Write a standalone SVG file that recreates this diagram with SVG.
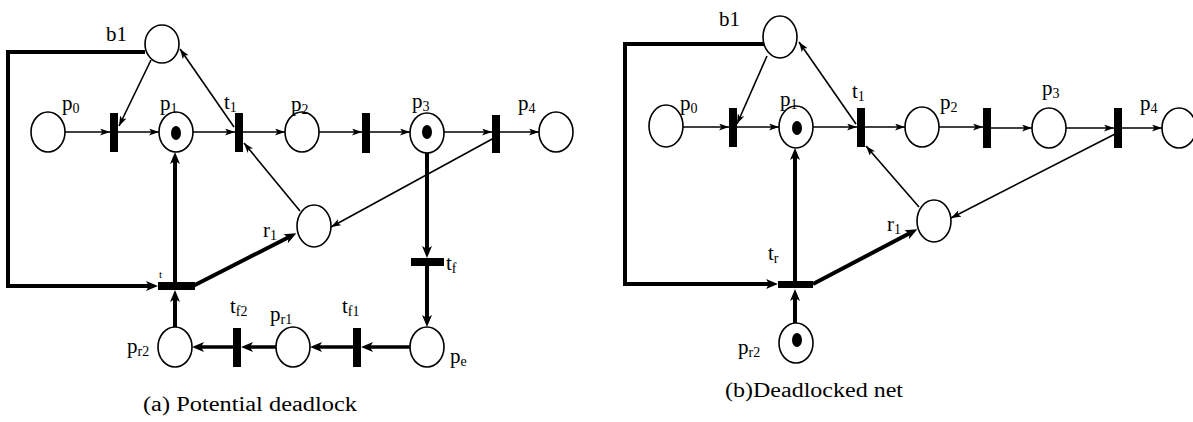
<svg xmlns="http://www.w3.org/2000/svg" width="1193" height="422" viewBox="0 0 1193 422">
<style>
.pl{fill:#fff;stroke:#000;stroke-width:1.6}
.tk{fill:#000}
.tb{fill:#000}
.a{fill:none;stroke:#000;stroke-width:1.6}
.b{fill:none;stroke:#000;stroke-width:4}
.c{fill:none;stroke:#000;stroke-width:3.5}
text{font-family:"Liberation Serif","Times New Roman",serif;font-size:21px;fill:#000}
.s{font-size:14px}
.sm{font-size:11px}
.cap{font-size:20px}
</style>
<defs>
<marker id="ah" markerUnits="userSpaceOnUse" markerWidth="10" markerHeight="7" refX="10" refY="3.5" orient="auto">
<path d="M0,0 L10,3.5 L0,7 L2.5,3.5 z" fill="#000"/>
</marker>
<marker id="ahb" markerUnits="userSpaceOnUse" markerWidth="12" markerHeight="10" refX="6" refY="5" orient="auto">
<path d="M0,0 L12,5 L0,10 L3,5 z" fill="#000"/>
</marker>
</defs>
<rect width="1193" height="422" fill="#fff"/>

<g id="connectors">
<!-- left net -->
<line class="a" x1="65" y1="132" x2="110" y2="132" marker-end="url(#ah)"/>
<line class="a" x1="151" y1="60" x2="119" y2="126" marker-end="url(#ah)"/>
<line class="a" x1="118" y1="132" x2="159" y2="132" marker-end="url(#ah)"/>
<line class="a" x1="193" y1="132" x2="235" y2="132" marker-end="url(#ah)"/>
<line class="a" x1="234" y1="127" x2="180" y2="49" marker-end="url(#ah)"/>
<line class="a" x1="243" y1="132" x2="285" y2="132" marker-end="url(#ah)"/>
<line class="a" x1="319" y1="132" x2="362" y2="132" marker-end="url(#ah)"/>
<line class="a" x1="370" y1="132" x2="410" y2="132" marker-end="url(#ah)"/>
<line class="a" x1="444" y1="132" x2="492" y2="132" marker-end="url(#ah)"/>
<line class="a" x1="500" y1="132" x2="539" y2="132" marker-end="url(#ah)"/>
<line class="a" x1="300" y1="211" x2="244" y2="143" marker-end="url(#ah)"/>
<line class="a" x1="494" y1="138" x2="331" y2="227" marker-end="url(#ah)"/>
<line class="b" x1="427" y1="153" x2="427" y2="252" marker-end="url(#ahb)"/>
<line class="b" x1="427" y1="266" x2="427" y2="321" marker-end="url(#ahb)"/>
<line class="c" x1="410" y1="347" x2="367" y2="347" marker-end="url(#ahb)"/>
<line class="c" x1="353" y1="347" x2="316" y2="347" marker-end="url(#ahb)"/>
<line class="c" x1="276" y1="347" x2="247" y2="347" marker-end="url(#ahb)"/>
<line class="c" x1="233" y1="347" x2="198" y2="347" marker-end="url(#ahb)"/>
<line class="b" x1="175" y1="327" x2="175" y2="296" marker-end="url(#ahb)"/>
<line class="b" x1="175" y1="282" x2="175" y2="158" marker-end="url(#ahb)"/>
<polyline class="b" points="145,52 8,52 8,286 152,286" marker-end="url(#ahb)"/>
<line class="b" x1="193" y1="286" x2="291" y2="236" marker-end="url(#ahb)"/>
<!-- right net -->
<line class="a" x1="683" y1="127" x2="729" y2="127" marker-end="url(#ah)"/>
<line class="a" x1="767" y1="56" x2="737" y2="124" marker-end="url(#ah)"/>
<line class="a" x1="737" y1="127" x2="779" y2="127" marker-end="url(#ah)"/>
<line class="a" x1="813" y1="127" x2="857" y2="127" marker-end="url(#ah)"/>
<line class="a" x1="856" y1="124" x2="799" y2="42" marker-end="url(#ah)"/>
<line class="a" x1="865" y1="127" x2="905" y2="127" marker-end="url(#ah)"/>
<line class="a" x1="939" y1="127" x2="983" y2="127" marker-end="url(#ah)"/>
<line class="a" x1="991" y1="128" x2="1032" y2="128" marker-end="url(#ah)"/>
<line class="a" x1="1066" y1="128" x2="1114" y2="128" marker-end="url(#ah)"/>
<line class="a" x1="1122" y1="128" x2="1162" y2="128" marker-end="url(#ah)"/>
<line class="a" x1="919" y1="207" x2="866" y2="146" marker-end="url(#ah)"/>
<line class="a" x1="1117" y1="133" x2="951" y2="218" marker-end="url(#ah)"/>
<polyline class="b" points="766,44 625,44 625,284 772,284" marker-end="url(#ahb)"/>
<line class="b" x1="795" y1="323" x2="795" y2="295" marker-end="url(#ahb)"/>
<line class="b" x1="795" y1="282" x2="795" y2="154" marker-end="url(#ahb)"/>
<line class="b" x1="813" y1="284" x2="912" y2="232" marker-end="url(#ahb)"/>
</g>

<!-- left net nodes -->
<g id="a_b1"><ellipse class="pl" cx="162" cy="44" rx="17" ry="19"/><text x="106" y="41">b1</text></g>
<g id="a_p0"><ellipse class="pl" cx="48" cy="132" rx="17" ry="20"/><text x="62" y="110">p<tspan class="s" dy="3">0</tspan></text></g>
<g id="a_t0"><rect class="tb" x="110" y="113" width="8" height="39"/></g>
<g id="a_p1"><ellipse class="pl" cx="176" cy="132" rx="17" ry="20"/><ellipse class="tk" cx="176" cy="133" rx="5" ry="7"/><text x="160" y="110">p<tspan class="s" dy="3">1</tspan></text></g>
<g id="a_t1"><rect class="tb" x="235" y="113" width="8" height="39"/><text x="224" y="109">t<tspan class="s" dy="3">1</tspan></text></g>
<g id="a_p2"><ellipse class="pl" cx="302" cy="132" rx="17" ry="20"/><text x="291" y="111">p<tspan class="s" dy="3">2</tspan></text></g>
<g id="a_t2"><rect class="tb" x="362" y="113" width="8" height="40"/></g>
<g id="a_p3"><ellipse class="pl" cx="427" cy="133" rx="17" ry="20"/><ellipse class="tk" cx="427" cy="132" rx="5" ry="7"/><text x="412" y="108">p<tspan class="s" dy="3">3</tspan></text></g>
<g id="a_t3"><rect class="tb" x="492" y="115" width="8" height="38"/></g>
<g id="a_p4"><ellipse class="pl" cx="556" cy="132" rx="17" ry="20"/><text x="518" y="110">p<tspan class="s" dy="3">4</tspan></text></g>
<g id="a_r1"><ellipse class="pl" cx="314" cy="226" rx="17" ry="21"/><text x="263" y="237">r<tspan class="s" dy="3">1</tspan></text></g>
<g id="a_tr"><rect class="tb" x="158" y="282" width="37" height="8"/><text class="sm" x="159" y="278">t</text></g>
<g id="a_tf"><rect class="tb" x="411" y="258" width="33" height="8"/><text x="446" y="270">t<tspan class="s" dy="3">f</tspan></text></g>
<g id="a_pe"><ellipse class="pl" cx="427" cy="347" rx="17" ry="20"/><text x="450" y="363">p<tspan class="s" dy="3">e</tspan></text></g>
<g id="a_tf1"><rect class="tb" x="353" y="328" width="8" height="39"/><text x="342" y="313">t<tspan class="s" dy="3">f1</tspan></text></g>
<g id="a_pr1"><ellipse class="pl" cx="293" cy="347" rx="17" ry="20"/><text x="270" y="321">p<tspan class="s" dy="3">r1</tspan></text></g>
<g id="a_tf2"><rect class="tb" x="233" y="328" width="8" height="39"/><text x="230" y="313">t<tspan class="s" dy="3">f2</tspan></text></g>
<g id="a_pr2"><ellipse class="pl" cx="175" cy="347" rx="17" ry="20"/><text x="127" y="353">p<tspan class="s" dy="3">r2</tspan></text></g>
<text class="cap" x="143" y="411" textLength="214" lengthAdjust="spacingAndGlyphs">(a) Potential deadlock</text>

<!-- right net nodes -->
<g id="b_b1"><ellipse class="pl" cx="780" cy="37" rx="17" ry="21"/><text x="719" y="26">b1</text></g>
<g id="b_p0"><ellipse class="pl" cx="666" cy="126" rx="17" ry="21"/><text x="680" y="110">p<tspan class="s" dy="3">0</tspan></text></g>
<g id="b_t0"><rect class="tb" x="729" y="108" width="8" height="39"/></g>
<g id="b_p1"><ellipse class="pl" cx="796" cy="127" rx="17" ry="21"/><ellipse class="tk" cx="797" cy="128" rx="5" ry="7"/><text x="780" y="106">p<tspan class="s" dy="3">1</tspan></text></g>
<g id="b_t1"><rect class="tb" x="857" y="108" width="8" height="39"/><text x="852" y="98">t<tspan class="s" dy="3">1</tspan></text></g>
<g id="b_p2"><ellipse class="pl" cx="922" cy="127" rx="17" ry="20"/><text x="940" y="109">p<tspan class="s" dy="3">2</tspan></text></g>
<g id="b_t2"><rect class="tb" x="983" y="108" width="8" height="40"/></g>
<g id="b_p3"><ellipse class="pl" cx="1049" cy="128" rx="17" ry="20"/><text x="1042" y="95">p<tspan class="s" dy="3">3</tspan></text></g>
<g id="b_t3"><rect class="tb" x="1114" y="108" width="8" height="40"/></g>
<g id="b_p4"><ellipse class="pl" cx="1179" cy="128" rx="17" ry="20"/><text x="1140" y="110">p<tspan class="s" dy="3">4</tspan></text></g>
<g id="b_r1"><ellipse class="pl" cx="934" cy="221" rx="17" ry="21"/><text x="887" y="231">r<tspan class="s" dy="3">1</tspan></text></g>
<g id="b_tr"><rect class="tb" x="778" y="281" width="35" height="7"/><text x="768" y="260">t<tspan class="s" dy="3">r</tspan></text></g>
<g id="b_pr2"><ellipse class="pl" cx="796" cy="343" rx="17" ry="20"/><ellipse class="tk" cx="797" cy="340" rx="5" ry="7"/><text x="738" y="354">p<tspan class="s" dy="3">r2</tspan></text></g>
<text class="cap" x="725" y="397" textLength="178" lengthAdjust="spacingAndGlyphs">(b)Deadlocked net</text>
</svg>
